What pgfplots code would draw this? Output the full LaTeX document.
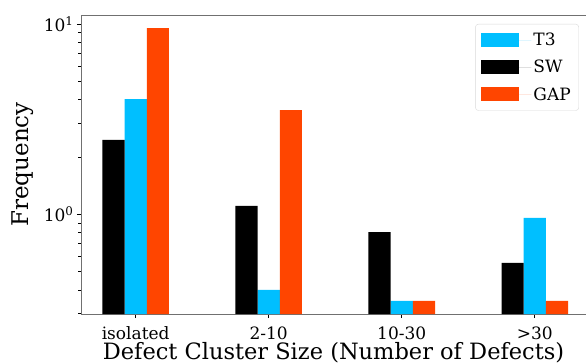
\documentclass[border=0pt]{standalone}
\usepackage{fontspec}
\setmainfont{DejaVu Serif}
\usepackage{pgfplots}
\pgfplotsset{compat=1.18}
\definecolor{cT3}{HTML}{00BFFF}
\definecolor{cGAP}{HTML}{FF4500}
\definecolor{spine}{HTML}{707070}
\begin{document}
\begin{tikzpicture}
\begin{axis}[
  width=505pt, height=299pt, scale only axis,
  ymode=log, log origin y=infty,
  xmin=-0.411, xmax=3.385,
  ymin=0.299, ymax=11.15,
  axis x line*=box, axis y line*=left,
  axis line style={spine, line width=0.8pt},
  xtick={0,1,2,3},
  xticklabels={isolated,2-10,10-30,{>30}},
  xtick pos=bottom,
  ytick={1,10},
  yticklabels={10\textsuperscript{0},10\textsuperscript{1}},
  minor ytick={0.3,0.4,0.5,0.6,0.7,0.8,0.9,2,3,4,5,6,7,8,9},
  tick align=outside,
  major tick length=4pt, minor tick length=2.5pt,
  every tick/.style={black, line width=0.8pt},
  tick label style={font=\fontsize{17}{19}\selectfont},
  xticklabel style={anchor=base, yshift=-21pt, inner sep=0pt},
  every axis x label/.style={at={(rel axis cs:0.5,0)}, anchor=base, yshift=-45pt, inner sep=0pt, font=\fontsize{22.5}{25}\selectfont},
  every axis y label/.style={at={(rel axis cs:0,0.5)}, xshift=-58pt, rotate=90, anchor=center, font=\fontsize{23}{26}\selectfont},
  xlabel={Defect Cluster Size (Number of Defects)},
  ylabel={Frequency},
  bar width=0.1667,
  legend style={at={(rel axis cs:0.986,0.97)}, anchor=north east, draw=black!15, rounded corners=3pt,
    font=\fontsize{17}{19}\selectfont, row sep=9pt, inner xsep=6pt, inner ysep=7pt},
  legend cell align=left,
  legend image code/.code={\fill[#1, sharp corners] (0pt,-7pt) rectangle (38pt,7pt); \path (0pt,0pt) -- (50pt,0pt);},
]
\addplot[ybar, bar shift=0, fill=cT3, draw=none] coordinates {(0,4.03) (1,0.40) (2,0.35) (3,0.956)};
\addlegendentry{T3}
\addplot[ybar, bar shift=-0.1667, fill=black, draw=none] coordinates {(0,2.46) (1,1.105) (2,0.805) (3,0.555)};
\addlegendentry{SW}
\addplot[ybar, bar shift=0.1667, fill=cGAP, draw=none] coordinates {(0,9.5) (1,3.53) (2,0.35) (3,0.35)};
\addlegendentry{GAP}
\coordinate (bl) at (rel axis cs:0,0);
\coordinate (tr) at (rel axis cs:1,1);
\end{axis}
\pgfresetboundingbox
\path[use as bounding box] ([xshift=-81pt,yshift=-49pt]bl) rectangle ([yshift=15pt]tr);
\end{tikzpicture}
\end{document}
